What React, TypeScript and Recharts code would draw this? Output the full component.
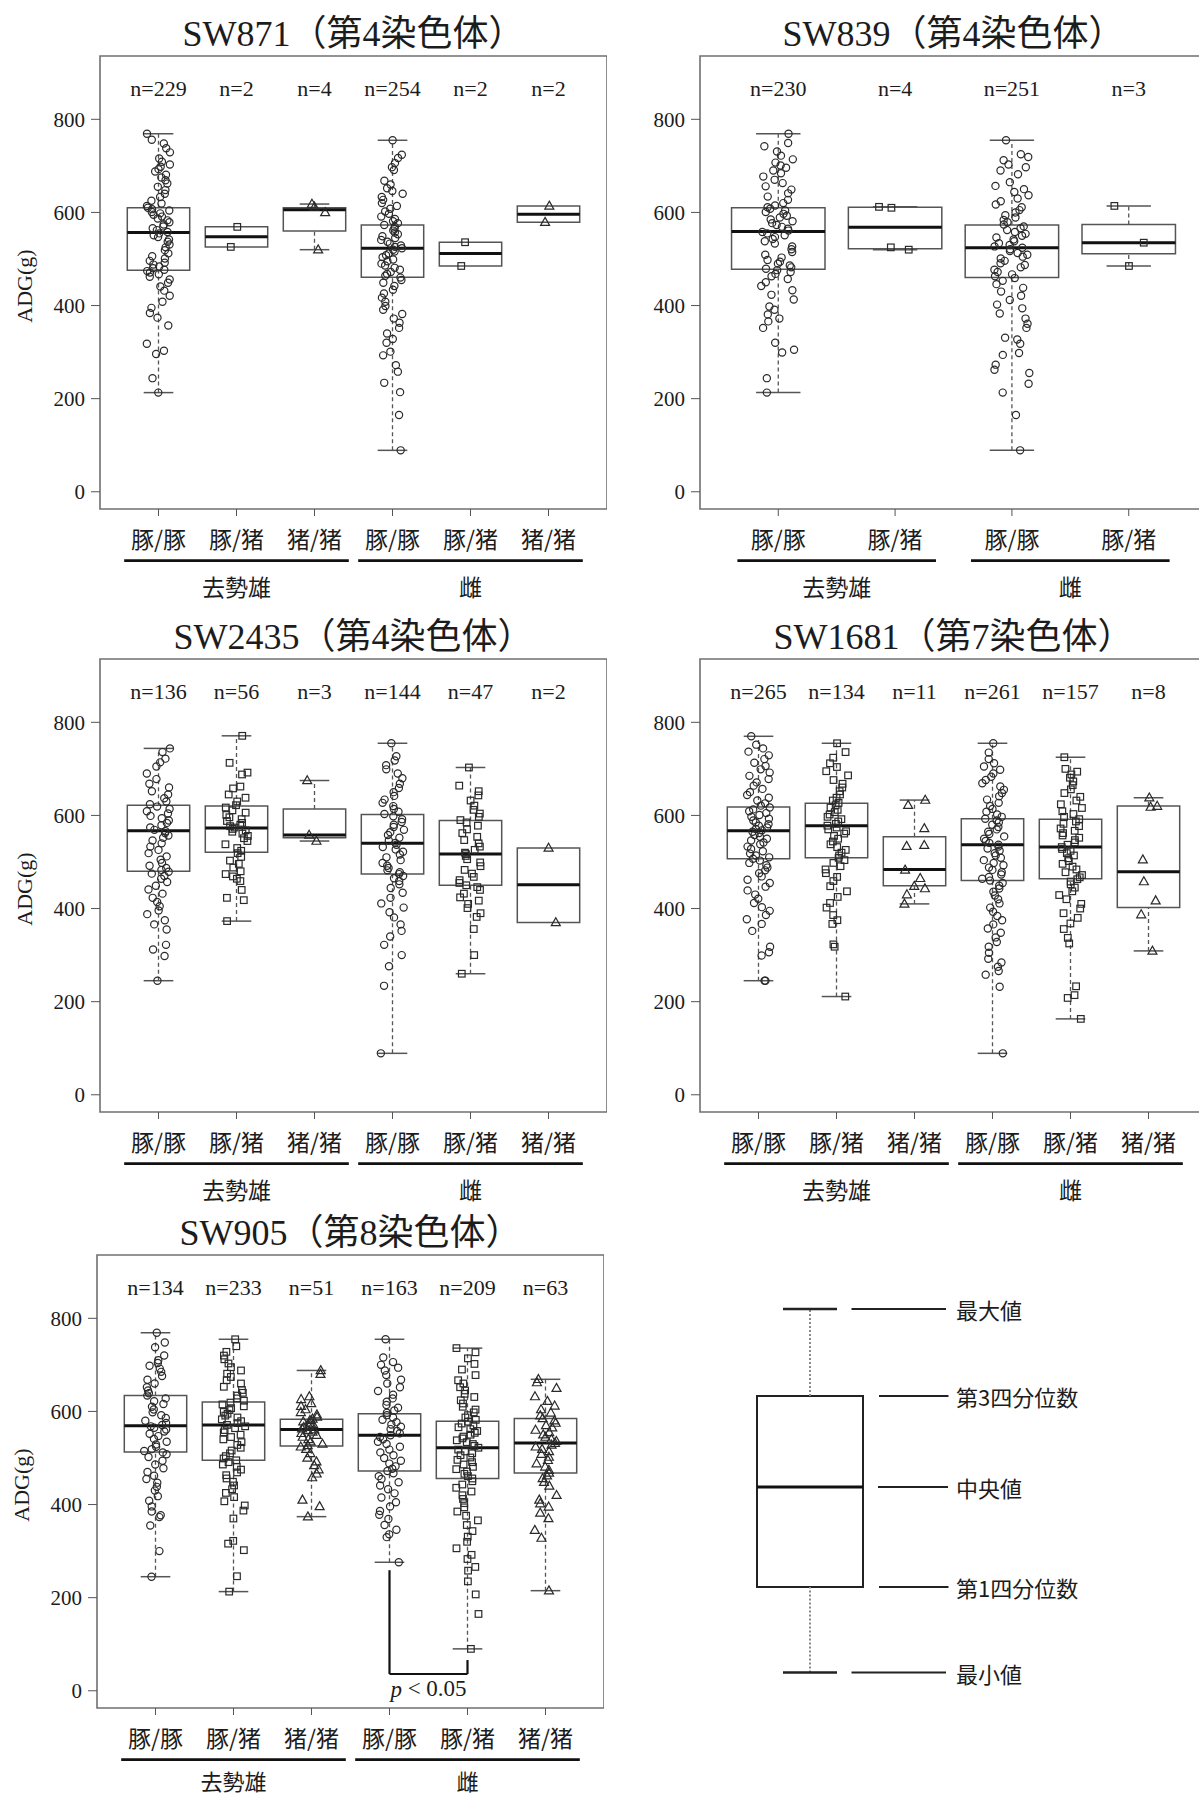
import React from "react";
import { ComposedChart, XAxis, YAxis, Scatter, ReferenceArea, ReferenceLine } from "recharts";

const INK = "#1c1c1c";
const SERIF = "'Liberation Serif', 'Times New Roman', 'Noto Sans CJK JP', serif";
const GOTHIC = "'Noto Sans CJK JP', 'Noto Sans', sans-serif";

const CATS6 = ["豚/豚", "豚/猪", "猪/猪", "豚/豚", "豚/猪", "猪/猪"];
const CATS4 = ["豚/豚", "豚/猪", "豚/豚", "豚/猪"];
const SEX_GROUPS = ["去勢雄", "雌"];
const Y_TICKS = [0, 200, 400, 600, 800];
const Y_DOMAIN = [-37, 936];
const N_LABEL_Y = 867;

// SW871 (chr 4) — stats are [min, q1, median, q3, max]
const sw871N = [229, 2, 4, 254, 2, 2];
const sw871Stats = [
  [213, 476, 557, 610, 769],
  [526, 526, 548, 569, 569],
  [520, 560, 606, 610, 618],
  [89, 461, 523, 573, 755],
  [485, 485, 512, 536, 536],
  [579, 579, 596, 614, 614],
];
const sw871G1 = [769, 756, 748, 738, 729, 716, 709, 703, 698, 693, 688, 681, 675, 669, 662, 655, 648, 640, 633, 625, 619, 614, 610, 607, 604, 601, 598, 595, 591, 587, 583, 579, 574, 570, 566, 562, 558, 555, 551, 547, 542, 537, 531, 525, 519, 512, 506, 501, 496, 492, 488, 484, 480, 477, 474, 471, 467, 462, 456, 449, 441, 432, 421, 408, 395, 384, 374, 357, 318, 303, 296, 244, 213];
const sw871G2 = [526, 569];
const sw871G3 = [520, 600, 612, 618];
const sw871G4 = [755, 724, 717, 706, 697, 691, 668, 660, 652, 646, 640, 633, 627, 620, 614, 608, 602, 597, 591, 586, 581, 577, 573, 569, 565, 561, 557, 553, 549, 545, 541, 537, 533, 529, 526, 523, 520, 516, 512, 508, 504, 499, 495, 490, 486, 481, 477, 472, 468, 464, 460, 455, 449, 442, 434, 426, 417, 408, 399, 391, 382, 372, 363, 352, 340, 328, 320, 301, 293, 272, 258, 234, 214, 165, 89];
const sw871G5 = [485, 536];
const sw871G6 = [579, 614];

// SW839 (chr 4)
const sw839N = [230, 4, 251, 3];
const sw839Stats = [
  [213, 478, 559, 610, 769],
  [520, 522, 568, 611, 612],
  [89, 460, 524, 573, 755],
  [485, 511, 535, 574, 614],
];
const sw839G1 = [769, 749, 742, 731, 722, 714, 707, 701, 696, 690, 684, 677, 670, 663, 656, 649, 641, 634, 627, 620, 615, 611, 608, 604, 601, 597, 593, 589, 585, 581, 577, 573, 569, 565, 561, 558, 555, 551, 547, 543, 538, 533, 527, 521, 515, 509, 503, 498, 494, 490, 486, 482, 479, 476, 472, 468, 463, 457, 450, 442, 433, 423, 413, 398, 391, 381, 372, 366, 352, 320, 305, 299, 244, 213];
const sw839G2 = [520, 525, 610, 612];
const sw839G3 = [755, 725, 719, 712, 703, 697, 690, 682, 665, 657, 650, 644, 637, 630, 624, 617, 611, 605, 600, 594, 589, 584, 579, 574, 570, 566, 562, 558, 554, 550, 546, 542, 538, 534, 530, 527, 524, 521, 517, 513, 509, 505, 501, 496, 491, 487, 482, 477, 472, 467, 463, 459, 453, 446, 438, 430, 421, 412, 402, 394, 383, 372, 361, 352, 331, 327, 318, 298, 294, 273, 262, 255, 232, 213, 165, 89];
const sw839G4 = [485, 535, 614];

// SW2435 (chr 4)
const sw2435N = [136, 56, 3, 144, 47, 2];
const sw2435Stats = [
  [245, 480, 567, 622, 744],
  [373, 521, 573, 620, 771],
  [545, 552, 558, 614, 675],
  [89, 474, 540, 602, 755],
  [260, 450, 517, 589, 703],
  [370, 370, 451, 530, 530],
];
const sw2435G1 = [744, 736, 722, 714, 705, 690, 678, 668, 660, 652, 645, 637, 630, 624, 619, 614, 609, 604, 599, 594, 589, 584, 579, 574, 569, 566, 562, 557, 552, 546, 540, 533, 526, 519, 512, 505, 498, 492, 487, 483, 479, 475, 470, 464, 457, 449, 441, 432, 423, 414, 405, 396, 388, 375, 366, 355, 322, 312, 298, 245];
const sw2435G2 = [771, 713, 692, 688, 662, 658, 645, 638, 630, 622, 617, 611, 606, 601, 596, 592, 588, 584, 580, 577, 574, 571, 568, 565, 561, 556, 551, 545, 538, 530, 524, 519, 511, 503, 496, 488, 480, 474, 469, 464, 459, 440, 423, 418, 373];
const sw2435G3 = [545, 558, 675];
const sw2435G4 = [755, 727, 718, 708, 699, 690, 680, 668, 659, 650, 642, 634, 627, 620, 614, 608, 603, 598, 592, 586, 580, 575, 569, 564, 558, 552, 546, 541, 537, 532, 527, 522, 516, 510, 504, 498, 492, 487, 482, 478, 474, 470, 465, 459, 452, 444, 434, 423, 411, 402, 392, 381, 366, 352, 340, 322, 300, 276, 234, 89];
const sw2435G5 = [703, 664, 652, 643, 632, 621, 612, 604, 597, 590, 585, 578, 570, 562, 554, 547, 540, 533, 526, 520, 517, 513, 506, 499, 491, 483, 475, 468, 461, 455, 450, 446, 440, 432, 424, 417, 410, 401, 390, 382, 356, 300, 260];
const sw2435G6 = [370, 530];

// SW1681 (chr 7)
const sw1681N = [265, 134, 11, 261, 157, 8];
const sw1681Stats = [
  [245, 507, 567, 618, 770],
  [211, 509, 578, 626, 755],
  [410, 449, 484, 554, 633],
  [89, 460, 537, 593, 755],
  [163, 464, 532, 592, 725],
  [309, 402, 479, 620, 638],
];
const sw1681G1 = [770, 752, 744, 737, 729, 721, 713, 706, 699, 692, 685, 678, 671, 664, 657, 650, 644, 638, 632, 626, 621, 617, 613, 609, 605, 601, 597, 593, 589, 585, 581, 578, 574, 571, 568, 565, 562, 558, 554, 550, 546, 542, 538, 533, 528, 523, 518, 514, 510, 507, 503, 498, 493, 488, 482, 476, 469, 462, 455, 447, 439, 430, 421, 412, 403, 395, 386, 377, 367, 352, 318, 306, 299, 245, 245];
const sw1681G2 = [755, 736, 724, 712, 704, 695, 686, 676, 668, 660, 652, 645, 638, 632, 627, 622, 617, 612, 607, 602, 597, 592, 587, 582, 578, 574, 570, 566, 561, 556, 550, 544, 538, 532, 526, 520, 514, 509, 504, 498, 491, 484, 476, 468, 459, 448, 437, 425, 412, 402, 386, 375, 367, 323, 318, 211];
const sw1681G3 = [410, 430, 443, 448, 465, 483, 534, 536, 572, 622, 633];
const sw1681G4 = [755, 735, 721, 712, 705, 698, 690, 683, 676, 669, 662, 655, 648, 641, 634, 627, 620, 614, 608, 602, 597, 593, 589, 585, 580, 575, 570, 565, 560, 555, 550, 545, 541, 537, 533, 529, 524, 519, 514, 509, 504, 498, 493, 488, 483, 478, 473, 468, 464, 460, 455, 449, 443, 436, 428, 420, 411, 402, 393, 384, 375, 366, 357, 348, 338, 328, 318, 305, 292, 284, 275, 266, 258, 232, 89];
const sw1681G5 = [725, 700, 694, 688, 681, 673, 665, 656, 648, 640, 632, 624, 616, 609, 603, 597, 592, 587, 582, 577, 572, 567, 562, 557, 552, 547, 542, 537, 532, 528, 524, 519, 514, 508, 502, 496, 490, 484, 478, 472, 467, 463, 458, 452, 445, 437, 429, 420, 410, 400, 390, 380, 368, 356, 337, 325, 233, 214, 208, 163];
const sw1681G6 = [309, 387, 417, 458, 505, 618, 620, 638];

// SW905 (chr 8)
const sw905N = [134, 233, 51, 163, 209, 63];
const sw905Stats = [
  [245, 513, 569, 634, 769],
  [213, 495, 571, 620, 755],
  [374, 526, 561, 583, 688],
  [276, 472, 549, 595, 755],
  [90, 456, 522, 579, 736],
  [215, 468, 532, 585, 669],
];
const sw905G1 = [769, 748, 738, 720, 710, 704, 698, 692, 685, 676, 668, 660, 652, 645, 639, 634, 628, 622, 616, 610, 604, 598, 592, 586, 580, 575, 571, 568, 565, 561, 557, 552, 547, 541, 535, 529, 524, 519, 515, 512, 508, 502, 494, 486, 478, 470, 462, 455, 447, 438, 430, 418, 408, 396, 385, 377, 373, 355, 300, 245];
const sw905G2 = [755, 740, 728, 720, 712, 703, 695, 688, 681, 674, 667, 660, 653, 646, 640, 634, 628, 623, 619, 615, 611, 607, 603, 599, 595, 591, 587, 583, 579, 575, 571, 568, 564, 560, 555, 550, 545, 540, 534, 528, 522, 516, 510, 504, 499, 495, 491, 486, 481, 475, 469, 463, 456, 449, 441, 433, 425, 416, 407, 398, 387, 370, 322, 316, 302, 246, 213];
const sw905G3 = [688, 680, 632, 626, 617, 611, 604, 598, 593, 588, 584, 581, 578, 575, 572, 569, 566, 563, 561, 559, 556, 553, 549, 545, 540, 535, 530, 527, 524, 519, 510, 500, 492, 484, 475, 466, 458, 410, 396, 374];
const sw905G4 = [755, 716, 706, 700, 694, 688, 678, 668, 660, 652, 644, 636, 628, 621, 614, 608, 602, 597, 592, 587, 582, 577, 572, 567, 562, 558, 553, 549, 545, 540, 535, 530, 524, 518, 512, 506, 500, 494, 488, 482, 477, 472, 467, 461, 455, 448, 441, 433, 424, 415, 405, 396, 386, 378, 369, 356, 346, 336, 330, 276];
const sw905G5 = [736, 727, 714, 702, 690, 678, 667, 660, 652, 645, 638, 631, 624, 617, 610, 604, 598, 592, 587, 582, 578, 574, 570, 566, 562, 558, 554, 550, 546, 542, 538, 534, 530, 526, 522, 518, 514, 510, 506, 501, 496, 491, 486, 481, 476, 471, 466, 461, 456, 450, 443, 436, 428, 420, 412, 403, 394, 385, 376, 366, 356, 343, 331, 320, 306, 292, 283, 266, 258, 235, 207, 165, 90];
const sw905G6 = [669, 662, 650, 632, 622, 612, 604, 597, 591, 585, 580, 575, 570, 565, 560, 555, 550, 545, 540, 536, 532, 528, 524, 519, 514, 508, 502, 495, 488, 481, 474, 468, 462, 456, 448, 440, 420, 410, 402, 395, 382, 370, 345, 328, 215];
// significance bracket: groups compared, [left end, bottom, right end]
const sw905SigPair = [4, 5];
const sw905SigY = [259, 36, 66];
const sw905SigText = "p";

// legend diagram: [min, q1, median, q3, max] on an arbitrary 0-100 scale
const legendLabels = ["最小値", "第1四分位数", "中央値", "第3四分位数", "最大値"];
const legendValues = [15.5, 32.6, 52.6, 70.8, 88.2];

const kindOf = (cat) => (cat === "豚/豚" ? "circle" : cat === "豚/猪" ? "square" : "triangle");
// stripchart-style horizontal spread (deterministic hash, positions only)
const jit = (k, g) => {
  const h = Math.sin((k + 1) * 12.9898 + (g + 1) * 78.233) * 43758.5453;
  return (h - Math.floor(h) - 0.5) * 0.3;
};

function Marker({ cx, cy, kind }) {
  if (cx == null || cy == null) return null;
  const st = { fill: "none", stroke: "#2a2a2a", strokeWidth: 1.2 };
  if (kind === "square") return <rect x={cx - 3.3} y={cy - 3.3} width={6.6} height={6.6} {...st} />;
  if (kind === "triangle")
    return <path d={`M${cx},${cy - 4.8}L${cx + 4.5},${cy + 3.2}L${cx - 4.5},${cy + 3.2}Z`} {...st} />;
  return <circle cx={cx} cy={cy} r={3.6} {...st} />;
}

function Panel({ title, cats, counts, stats, points, left, top, plotW, xDomain, groupCenters, groupHalf, yLabel, sig, gid, grpLift = 0 }) {
  const width = 100 + plotW;
  const height = 612;
  const unit = plotW / (xDomain[1] - xDomain[0]);
  const catTicks = cats.map((_, i) => i + 1);
  const nData = counts.map((n, i) => ({ x: i + 1, y: N_LABEL_Y, label: `n=${n}` }));
  const boxStroke = "#555";

  const catTick = (props) => {
    const { x, y, payload } = props;
    return (
      <text x={x} y={y + 20} textAnchor="middle" dominantBaseline="central" fontSize={23} fontFamily={GOTHIC} fill={INK}>
        {cats[Math.round(payload.value) - 1]}
      </text>
    );
  };
  const grpTick = (props) => {
    const { x, y, index } = props;
    const half = groupHalf * unit;
    return (
      <g>
        <line x1={x - half} x2={x + half} y1={y + 11.6} y2={y + 11.6} stroke="#111" strokeWidth={2.6} />
        <text x={x} y={y + 36.5 - grpLift} textAnchor="middle" dominantBaseline="central" fontSize={grpLift ? 22 : 23} fontFamily={GOTHIC} fill={INK}>
          {SEX_GROUPS[index]}
        </text>
      </g>
    );
  };

  const refs = [];
  stats.forEach(([mn, q1, med, q3, mx], i) => {
    const c = i + 1;
    refs.push(
      <ReferenceArea key={`box${i}`} xAxisId="cat" x1={c - 0.4} x2={c + 0.4} y1={q1} y2={q3} fill="none" fillOpacity={0} stroke={boxStroke} strokeWidth={1.5} ifOverflow="visible" />
    );
    if (mx > q3) {
      refs.push(<ReferenceLine key={`wu${i}`} xAxisId="cat" segment={[{ x: c, y: q3 }, { x: c, y: mx }]} stroke={boxStroke} strokeWidth={1.3} strokeDasharray="4 3" ifOverflow="visible" />);
      refs.push(<ReferenceLine key={`cu${i}`} xAxisId="cat" segment={[{ x: c - 0.19, y: mx }, { x: c + 0.19, y: mx }]} stroke={boxStroke} strokeWidth={1.5} ifOverflow="visible" />);
    }
    if (mn < q1) {
      refs.push(<ReferenceLine key={`wl${i}`} xAxisId="cat" segment={[{ x: c, y: mn }, { x: c, y: q1 }]} stroke={boxStroke} strokeWidth={1.3} strokeDasharray="4 3" ifOverflow="visible" />);
      refs.push(<ReferenceLine key={`cl${i}`} xAxisId="cat" segment={[{ x: c - 0.19, y: mn }, { x: c + 0.19, y: mn }]} stroke={boxStroke} strokeWidth={1.5} ifOverflow="visible" />);
    }
    refs.push(<ReferenceLine key={`md${i}`} xAxisId="cat" segment={[{ x: c - 0.4, y: med }, { x: c + 0.4, y: med }]} stroke="#111" strokeWidth={3} ifOverflow="visible" />);
  });

  return (
    <div style={{ position: "absolute", left, top, width, height }}>
      <svg width={width} height={height} style={{ position: "absolute", left: 0, top: 0 }}>
        <text x={100 + plotW / 2} y={45.5} textAnchor="middle" fontSize={36} fontFamily={SERIF} fill={INK}>
          {title}
        </text>
        {yLabel ? (
          <text transform={`translate(24, ${56 + 230}) rotate(-90)`} textAnchor="middle" dominantBaseline="central" fontSize={22} fontFamily={SERIF} fill={INK}>
            ADG(g)
          </text>
        ) : null}
      </svg>
      <div style={{ position: "absolute", left: 0, top: 0 }}>
        <ComposedChart width={width} height={height} margin={{ top: 56, right: 0, bottom: 0, left: 0 }}>
          <XAxis xAxisId="cat" type="number" dataKey="x" domain={xDomain} allowDataOverflow ticks={catTicks} interval={0} height={40} axisLine={false} tickLine={{ stroke: "#555" }} tickSize={7} tickMargin={2} tick={catTick} />
          <XAxis xAxisId="grp" type="number" dataKey="x" domain={xDomain} allowDataOverflow ticks={groupCenters} interval={0} height={63} axisLine={false} tickLine={false} tickSize={0} tickMargin={0} tick={grpTick} />
          <YAxis type="number" dataKey="y" domain={Y_DOMAIN} allowDataOverflow ticks={Y_TICKS} interval={0} width={100} axisLine={false} tickLine={{ stroke: "#555" }} tickSize={9} tickMargin={6} tick={{ fontSize: 21, fill: INK, fontFamily: SERIF }} />
          <ReferenceArea xAxisId="cat" x1={xDomain[0]} x2={xDomain[1]} y1={Y_DOMAIN[0]} y2={Y_DOMAIN[1]} fill="none" fillOpacity={0} stroke="#707070" strokeWidth={1.6} ifOverflow="visible" />
          {refs}
          {points.map((pts, i) => (
            <Scatter
              key={`pts${i}`}
              xAxisId="cat"
              data={pts.map((v, k) => ({ x: i + 1 + jit(k, gid * 10 + i), y: v }))}
              dataKey="y"
              isAnimationActive={false}
              shape={(pp) => <Marker cx={pp.cx} cy={pp.cy} kind={kindOf(cats[i])} />}
            />
          ))}
          <Scatter
            xAxisId="cat"
            data={nData}
            dataKey="y"
            isAnimationActive={false}
            shape={(pp) => (
              <text x={pp.cx} y={pp.cy} textAnchor="middle" dominantBaseline="central" fontSize={22} fontFamily={SERIF} fill={INK}>
                {pp.payload.label}
              </text>
            )}
          />
          {sig ? (
            <ReferenceLine xAxisId="cat" segment={[{ x: sig.pair[0], y: sig.ys[0] }, { x: sig.pair[0], y: sig.ys[1] }]} stroke="#111" strokeWidth={2.2} ifOverflow="visible" />
          ) : null}
          {sig ? (
            <ReferenceLine xAxisId="cat" segment={[{ x: sig.pair[0], y: sig.ys[1] }, { x: sig.pair[1], y: sig.ys[1] }]} stroke="#111" strokeWidth={2.2} ifOverflow="visible" />
          ) : null}
          {sig ? (
            <ReferenceLine xAxisId="cat" segment={[{ x: sig.pair[1], y: sig.ys[1] }, { x: sig.pair[1], y: sig.ys[2] }]} stroke="#111" strokeWidth={2.2} ifOverflow="visible" />
          ) : null}
          {sig ? (
            <Scatter
              xAxisId="cat"
              data={[{ x: (sig.pair[0] + sig.pair[1]) / 2, y: 4 }]}
              dataKey="y"
              isAnimationActive={false}
              shape={(pp) => (
                <text x={pp.cx} y={pp.cy} textAnchor="middle" dominantBaseline="central" fontSize={23} fontFamily={SERIF} fill={INK}>
                  <tspan fontStyle="italic">{sig.text}</tspan>
                  {" < 0.05"}
                </text>
              )}
            />
          ) : null}
        </ComposedChart>
      </div>
    </div>
  );
}

function LegendDiagram() {
  const [mn, q1, med, q3, mx] = legendValues;
  const ink = "#222";
  const leaderStart = [3.03, 3.58, 3.56, 3.58, 3.03];
  const leaderEnd = [4.92, 4.97, 4.96, 4.97, 4.92];
  return (
    <div style={{ position: "absolute", left: 700, top: 1250 }}>
      <ComposedChart width={500} height={500} margin={{ top: 0, right: 0, bottom: 0, left: 0 }}>
        <XAxis type="number" dataKey="x" domain={[0, 10]} allowDataOverflow hide />
        <YAxis type="number" dataKey="y" domain={[0, 100]} allowDataOverflow hide />
        <ReferenceLine segment={[{ x: 2.2, y: q3 }, { x: 2.2, y: mx }]} stroke="#8a8a8a" strokeWidth={2} strokeDasharray="2 2" />
        <ReferenceLine segment={[{ x: 2.2, y: mn }, { x: 2.2, y: q1 }]} stroke="#8a8a8a" strokeWidth={2} strokeDasharray="2 2" />
        <ReferenceLine segment={[{ x: 1.66, y: mx }, { x: 2.74, y: mx }]} stroke={ink} strokeWidth={2.5} />
        <ReferenceLine segment={[{ x: 1.66, y: mn }, { x: 2.74, y: mn }]} stroke={ink} strokeWidth={2.5} />
        <ReferenceArea x1={1.14} x2={3.26} y1={q1} y2={q3} fill="none" fillOpacity={0} stroke={ink} strokeWidth={2} />
        <ReferenceLine segment={[{ x: 1.14, y: med }, { x: 3.26, y: med }]} stroke="#111" strokeWidth={3} />
        {legendValues.map((v, i) => (
          <ReferenceLine key={`ld${i}`} segment={[{ x: leaderStart[i], y: v }, { x: leaderEnd[i], y: v }]} stroke={ink} strokeWidth={2} />
        ))}
        <Scatter
          data={legendValues.map((v, i) => ({ x: 5.12, y: v, label: legendLabels[i] }))}
          dataKey="y"
          isAnimationActive={false}
          shape={(pp) => (
            <text x={pp.cx} y={pp.cy} textAnchor="start" dominantBaseline="central" fontSize={22} fontFamily={GOTHIC} fill={INK}>
              {pp.payload.label}
            </text>
          )}
        />
      </ComposedChart>
    </div>
  );
}

export default function App() {
  return (
    <div style={{ position: "absolute", left: 0, top: 0, width: 1199, height: 1798, overflow: "hidden", background: "#fff" }}>
      <Panel
        gid={1}
        title="SW871（第4染色体）"
        cats={CATS6}
        counts={sw871N}
        stats={sw871Stats}
        points={[sw871G1, sw871G2, sw871G3, sw871G4, sw871G5, sw871G6]}
        left={0}
        top={0}
        plotW={507}
        xDomain={[0.25, 6.75]}
        groupCenters={[2, 5]}
        groupHalf={1.44}
        yLabel
      />
      <Panel
        gid={2}
        title="SW839（第4染色体）"
        cats={CATS4}
        counts={sw839N}
        stats={sw839Stats}
        points={[sw839G1, sw839G2, sw839G3, sw839G4]}
        left={600}
        top={0}
        plotW={507}
        xDomain={[0.33, 4.67]}
        groupCenters={[1.5, 3.5]}
        groupHalf={0.85}
      />
      <Panel
        gid={3}
        title="SW2435（第4染色体）"
        cats={CATS6}
        counts={sw2435N}
        stats={sw2435Stats}
        points={[sw2435G1, sw2435G2, sw2435G3, sw2435G4, sw2435G5, sw2435G6]}
        left={0}
        top={603}
        plotW={507}
        xDomain={[0.25, 6.75]}
        groupCenters={[2, 5]}
        groupHalf={1.44}
        yLabel
      />
      <Panel
        gid={4}
        title="SW1681（第7染色体）"
        cats={CATS6}
        counts={sw1681N}
        stats={sw1681Stats}
        points={[sw1681G1, sw1681G2, sw1681G3, sw1681G4, sw1681G5, sw1681G6]}
        left={600}
        top={603}
        plotW={507}
        xDomain={[0.25, 6.75]}
        groupCenters={[2, 5]}
        groupHalf={1.44}
      />
      <Panel
        gid={5}
        title="SW905（第8染色体）"
        cats={CATS6}
        counts={sw905N}
        stats={sw905Stats}
        points={[sw905G1, sw905G2, sw905G3, sw905G4, sw905G5, sw905G6]}
        left={-3}
        top={1199}
        plotW={507}
        xDomain={[0.25, 6.75]}
        groupCenters={[2, 5]}
        groupHalf={1.44}
        yLabel
        grpLift={5}
        sig={{ pair: sw905SigPair, ys: sw905SigY, text: sw905SigText }}
      />
      <LegendDiagram />
    </div>
  );
}
